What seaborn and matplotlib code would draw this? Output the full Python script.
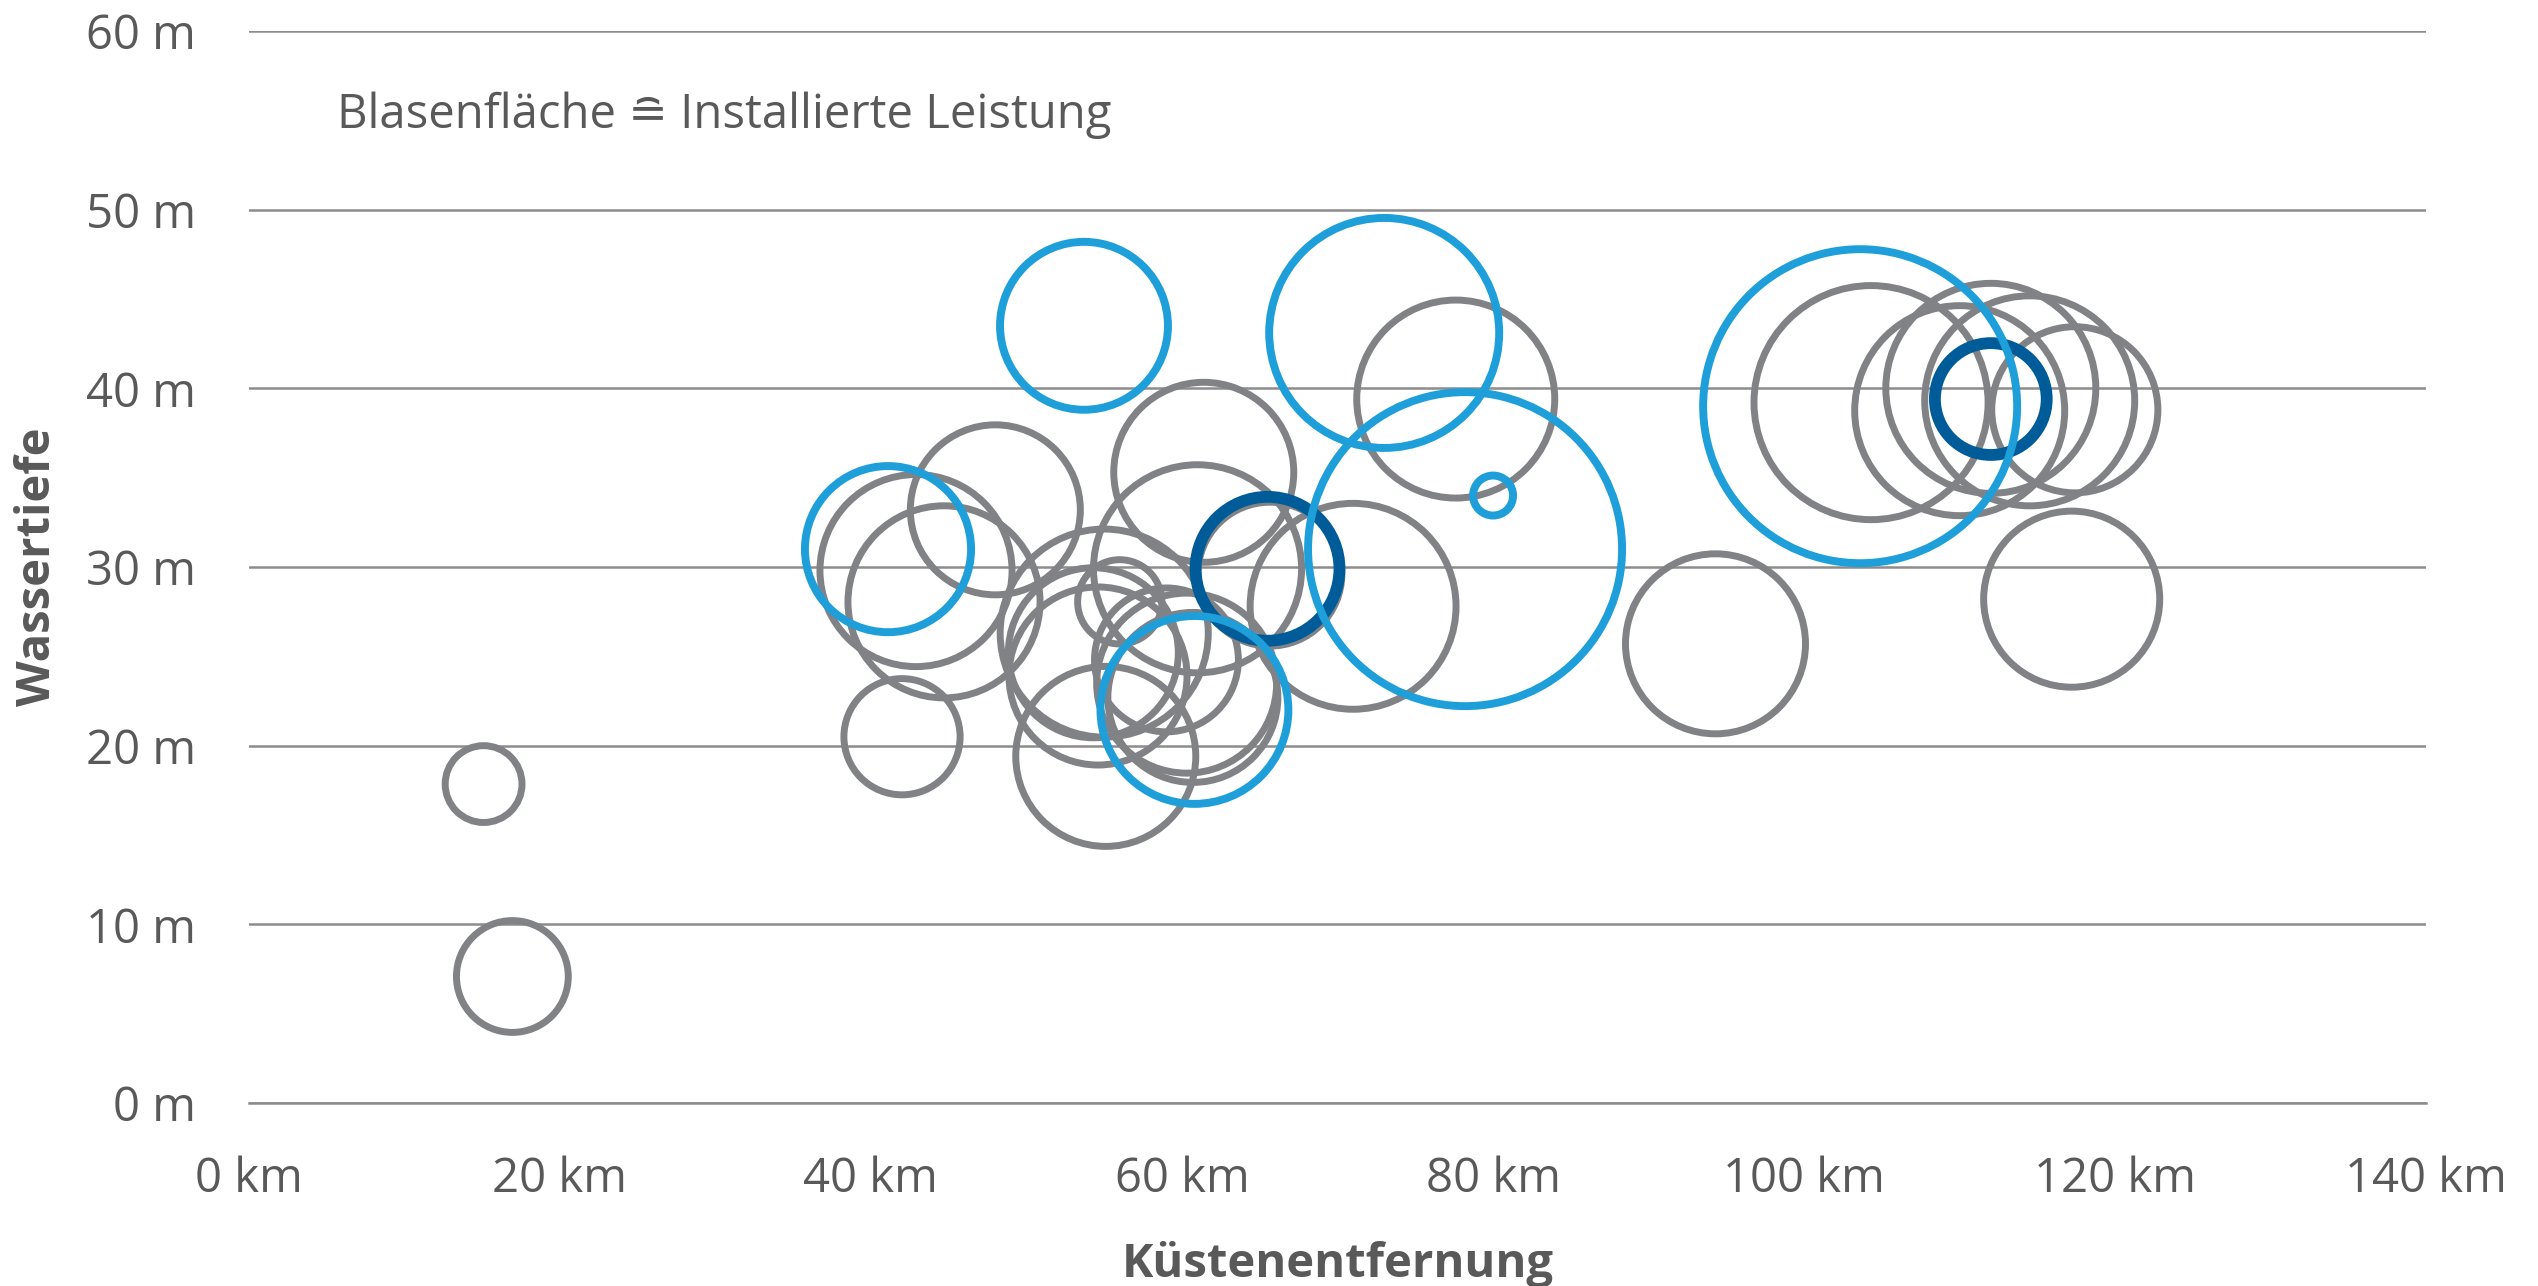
import pandas as pd
import matplotlib
matplotlib.use('Agg')
import matplotlib.pyplot as plt
import seaborn as sns

# Küstenentfernung (km), Wassertiefe (m), installierte Leistung (MW), Gruppe
entfernung = [15.1, 16.95, 42.0, 42.9, 44.7, 48.0, 55.0, 54.6, 54.3, 56.0,
              55.1, 59.0, 60.3, 60.7, 61.0, 61.4, 65.65, 71.0, 77.6, 94.3,
              104.3, 110.0, 112.0, 114.5, 117.4, 117.2,
              41.1, 53.7, 60.8, 73.0, 78.2, 80.0, 103.6,
              65.5, 112.0]
tiefe = [17.85, 7.08, 20.5, 29.8, 28.05, 33.2, 26.3, 23.9, 25.2, 28.05,
         19.4, 24.8, 23.5, 22.7, 29.9, 35.3, 29.6, 27.8, 39.4, 25.7,
         39.2, 38.75, 40.0, 39.3, 38.8, 28.2,
         31.0, 43.5, 22.0, 43.1, 31.0, 34.0, 39.0,
         29.9, 39.4]
leistung = [59, 125, 135, 369, 369, 289, 433, 317, 289, 71,
            324, 207, 324, 289, 433, 324, 207, 424, 392, 324,
            548, 441, 441, 441, 276, 310,
            276, 282, 353, 529, 986, 16, 986,
            207, 125]
gruppe = ['grau'] * 26 + ['hellblau'] * 7 + ['dunkelblau'] * 2

df = pd.DataFrame({'Küstenentfernung': entfernung, 'Wassertiefe': tiefe,
                   'Leistung': leistung, 'Gruppe': gruppe})

farben = {'grau': '#808285', 'hellblau': '#1F9FDA', 'dunkelblau': '#005C99'}
linien = {'grau': 5.0, 'hellblau': 5.7, 'dunkelblau': 8.5}
text_grau = '#595959'

sns.set_style('white')
plt.rcParams['font.family'] = ['Open Sans', 'DejaVu Sans']

fig = plt.figure(figsize=(25.38, 12.86), dpi=100)
ax = fig.add_axes([0.098, 0.1423, 0.858, 0.8336])

# Blasenfläche proportional zur Leistung
cap_max = max(leistung)
s_max = 51.84 * cap_max

for g in ['grau', 'dunkelblau', 'hellblau']:
    sub = df[df['Gruppe'] == g]
    sns.scatterplot(data=sub, x='Küstenentfernung', y='Wassertiefe',
                    size='Leistung', sizes=(0, s_max), size_norm=(0, cap_max),
                    legend=False, ax=ax, zorder=3)
    coll = ax.collections[-1]
    coll.set_facecolor('none')
    coll.set_edgecolor(farben[g])
    coll.set_linewidth(linien[g])

ax.set_xlim(0, 140)
ax.set_ylim(0, 60)
ax.set_xticks(range(0, 141, 20))
ax.set_xticklabels([f'{v} km' for v in range(0, 141, 20)])
ax.set_yticks(range(0, 61, 10))
ax.set_yticklabels([f'{v} m' for v in range(0, 61, 10)])

ax.yaxis.grid(True, color='#8C8C8C', linewidth=1.8, zorder=0)
ax.xaxis.grid(False)
ax.set_axisbelow(True)
for side in ['top', 'right', 'left']:
    ax.spines[side].set_visible(False)
ax.spines['bottom'].set_color('#8C8C8C')
ax.spines['bottom'].set_linewidth(1.8)

ax.tick_params(axis='x', direction='out', length=13, width=1.5,
               color='#8C8C8C', pad=25, labelsize=34, labelcolor=text_grau)
ax.tick_params(axis='y', length=0, pad=38, labelsize=34, labelcolor=text_grau)

ax.set_xlabel('Küstenentfernung', fontsize=34, fontweight='bold',
              color=text_grau, labelpad=27)
ax.set_ylabel('Wassertiefe', fontsize=34, fontweight='bold',
              color=text_grau, labelpad=18)

ax.text(5.7, 55.3, 'Blasenfläche \u2258 Installierte Leistung', fontsize=34,
        color=text_grau, va='center', ha='left',
        family=['Open Sans', 'DejaVu Sans'])

fig.savefig('out.png', dpi=100)
